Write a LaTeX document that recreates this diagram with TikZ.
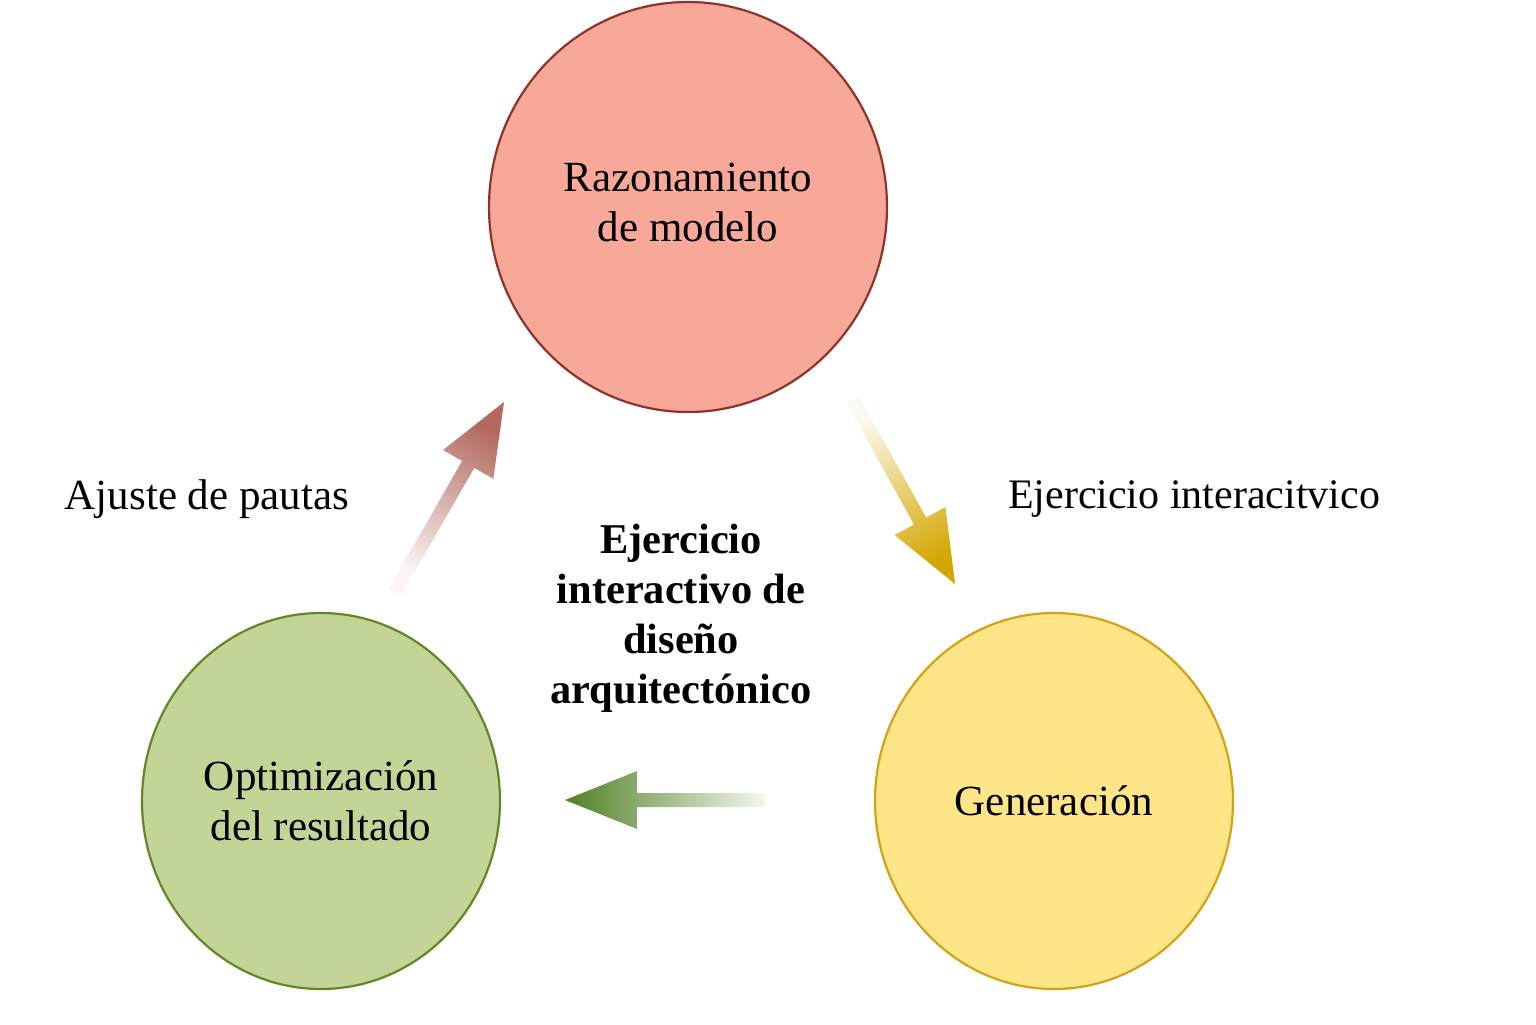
\documentclass[tikz,border=0pt]{standalone}
\usepackage{fontspec}
\setmainfont{Liberation Serif}
\usetikzlibrary{shapes.geometric,calc}
\definecolor{redfill}{RGB}{247,168,153}
\definecolor{redline}{RGB}{140,52,44}
\definecolor{greenfill}{RGB}{194,213,150}
\definecolor{greenline}{RGB}{98,135,38}
\definecolor{yellowfill}{RGB}{254,229,135}
\definecolor{yellowline}{RGB}{212,162,20}
\definecolor{redarrow}{RGB}{178,104,94}
\definecolor{yellowarrow}{RGB}{212,166,0}
\definecolor{greenarrow}{RGB}{80,128,36}
\tikzset{
  stage/.style={ellipse, draw, line width=1.1pt, inner sep=0pt, align=center,
    font=\fontsize{21.5}{25}\selectfont},
  lbl/.style={inner sep=0pt, font=\fontsize{21.5}{25}\selectfont},
  centretext/.style={inner sep=0pt, align=center, font=\bfseries\fontsize{21.2}{25}\selectfont}
}
% #1 tail, #2 tip, #3 colour, #4 shading angle, #5 name
\newcommand\fadearrow[5]{%
  \coordinate (#5h) at ($(#2)!36pt!(#1)$);
  \shade[top color=#3, middle color=#3!50, bottom color=#3!6, shading angle=#4]
    ($(#1)!3.5pt!90:(#2)$) -- ($(#5h)!3.5pt!90:(#2)$) -- ($(#5h)!14.5pt!90:(#2)$)
    -- (#2) -- ($(#5h)!14.5pt!-90:(#2)$) -- ($(#5h)!3.5pt!-90:(#2)$)
    -- ($(#1)!3.5pt!-90:(#2)$) -- cycle;
}
\begin{document}
\begin{tikzpicture}[x=0.5pt,y=-0.5pt]
\useasboundingbox[fill=white] (0,0) rectangle (1536,1024);
\node[stage, fill=redfill, draw=redline, minimum width=199pt, minimum height=205pt]
  (razon) at (688,207) {};
\node[stage, fill=greenfill, draw=greenline, minimum width=179pt, minimum height=188pt]
  (optim) at (321,801) {};
\node[stage, fill=yellowfill, draw=yellowline, minimum width=179pt, minimum height=188pt]
  (gener) at (1054,801) {};
\node[lbl, align=center] (razont) at ([yshift=2.5pt]razon.center) {Razonamiento\\de modelo};
\node[lbl, align=center] (optimt) at (optim.center) {Optimización\\del resultado};
\node[lbl] (genert) at (gener.center) {Generación};

\node[lbl] (ajuste) at (207,499) {Ajuste de pautas};
\node[lbl, font=\fontsize{21}{25}\selectfont] (ejer) at (1194,499) {Ejercicio interacitvico};
\node[centretext] (centre) at (681,618) {Ejercicio\\interactivo de\\diseño\\arquitectónico};

\coordinate (ltail) at (395,592);
\coordinate (ltip) at (504,402);
\coordinate (rtail) at (853,400);
\coordinate (rtip) at (955,584);
\coordinate (btail) at (765,800);
\coordinate (btip) at (565,800);
\fadearrow{ltail}{ltip}{redarrow}{-29.6}{la}
\fadearrow{rtail}{rtip}{yellowarrow}{-151.2}{ra}
\fadearrow{btail}{btip}{greenarrow}{90}{ba}
\end{tikzpicture}
\end{document}
